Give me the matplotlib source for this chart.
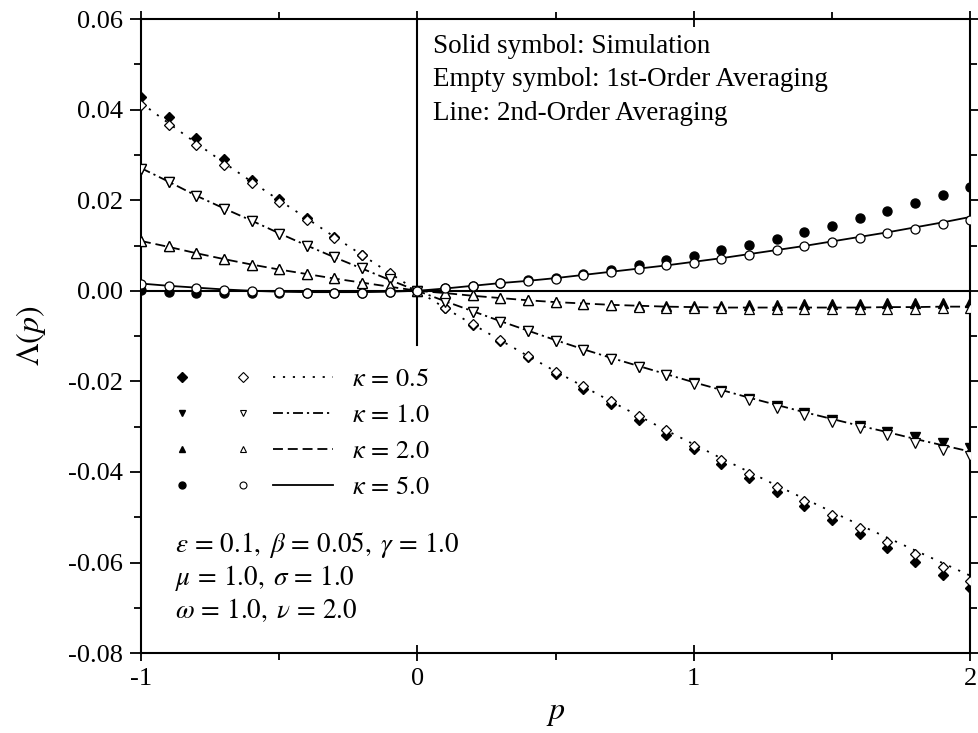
import matplotlib
matplotlib.use("Agg")
import matplotlib.pyplot as plt
from matplotlib.lines import Line2D
from matplotlib.legend_handler import HandlerTuple
from matplotlib.ticker import MultipleLocator, FormatStrFormatter
import numpy as np

plt.rcParams['font.family'] = ['Liberation Serif', 'DejaVu Serif']
plt.rcParams['mathtext.fontset'] = 'stix'

# p grid used for the simulation, 1st-order and 2nd-order curves
p = [-1.0, -0.9, -0.8, -0.7, -0.6, -0.5, -0.4, -0.3, -0.2, -0.1, 0.0,
     0.1, 0.2, 0.3, 0.4, 0.5, 0.6, 0.7, 0.8, 0.9, 1.0,
     1.1, 1.2, 1.3, 1.4, 1.5, 1.6, 1.7, 1.8, 1.9, 2.0]

kappas = ['0.5', '1.0', '2.0', '5.0']

# kappa = 0.5
sim_k05 = [0.0429, 0.0383, 0.0337, 0.0291, 0.0245, 0.0202, 0.0160, 0.0119, 0.0079, 0.0037, 0.0,
           -0.0039, -0.0076, -0.0111, -0.0147, -0.0183, -0.0217, -0.0249, -0.0285, -0.0318, -0.0350,
           -0.0382, -0.0414, -0.0445, -0.0476, -0.0507, -0.0537, -0.0568, -0.0598, -0.0627, -0.0656]
avg1_k05 = [0.0411, 0.0365, 0.0321, 0.0278, 0.0238, 0.0197, 0.0157, 0.0116, 0.0078, 0.0039, 0.0,
            -0.0038, -0.0074, -0.0108, -0.0144, -0.0180, -0.0211, -0.0244, -0.0277, -0.0308, -0.0342,
            -0.0373, -0.0404, -0.0433, -0.0465, -0.0495, -0.0524, -0.0554, -0.0581, -0.0610, -0.0640]
avg2_k05 = [0.0415, 0.0370, 0.0326, 0.0283, 0.0241, 0.0200, 0.0160, 0.0119, 0.0079, 0.0039, 0.0,
            -0.0038, -0.0074, -0.0109, -0.0144, -0.0178, -0.0211, -0.0244, -0.0276, -0.0308, -0.0339,
            -0.0370, -0.0400, -0.0430, -0.0459, -0.0488, -0.0517, -0.0545, -0.0573, -0.0601, -0.0629]

# kappa = 1.0
sim_k10 = [0.0270, 0.0241, 0.0209, 0.0181, 0.0154, 0.0126, 0.0099, 0.0074, 0.0050, 0.0025, 0.0,
           -0.0024, -0.0046, -0.0068, -0.0088, -0.0110, -0.0130, -0.0150, -0.0168, -0.0187, -0.0204,
           -0.0221, -0.0238, -0.0254, -0.0270, -0.0285, -0.0298, -0.0311, -0.0323, -0.0335, -0.0347]
avg1_k10 = [0.0270, 0.0241, 0.0209, 0.0181, 0.0154, 0.0126, 0.0099, 0.0074, 0.0050, 0.0025, 0.0,
            -0.0024, -0.0046, -0.0068, -0.0088, -0.0110, -0.0130, -0.0150, -0.0168, -0.0187, -0.0205,
            -0.0223, -0.0241, -0.0258, -0.0274, -0.0289, -0.0304, -0.0319, -0.0336, -0.0351, -0.0364]
avg2_k10 = [0.0271, 0.0241, 0.0210, 0.0182, 0.0155, 0.0127, 0.0100, 0.0074, 0.0049, 0.0024, 0.0,
            -0.0023, -0.0045, -0.0067, -0.0088, -0.0109, -0.0129, -0.0148, -0.0166, -0.0184, -0.0202,
            -0.0219, -0.0236, -0.0252, -0.0268, -0.0283, -0.0298, -0.0312, -0.0327, -0.0341, -0.0355]

# kappa = 2.0
sim_k20 = [0.0111, 0.0098, 0.0083, 0.0070, 0.0057, 0.0048, 0.0036, 0.0028, 0.0018, 0.0010, 0.0,
           -0.0004, -0.0010, -0.0016, -0.0021, -0.0025, -0.0029, -0.0031, -0.0033, -0.0034, -0.0034,
           -0.0033, -0.0032, -0.0031, -0.0030, -0.0030, -0.0029, -0.0028, -0.0027, -0.0026, -0.0024]
avg1_k20 = [0.0111, 0.0098, 0.0083, 0.0070, 0.0057, 0.0048, 0.0036, 0.0028, 0.0018, 0.0010, 0.0,
            -0.0004, -0.0010, -0.0016, -0.0021, -0.0025, -0.0029, -0.0032, -0.0035, -0.0037, -0.0038,
            -0.0039, -0.0040, -0.0040, -0.0040, -0.0040, -0.0040, -0.0040, -0.0040, -0.0039, -0.0039]
avg2_k20 = [0.0110, 0.0097, 0.0083, 0.0070, 0.0058, 0.0047, 0.0037, 0.0027, 0.0018, 0.0009, 0.0,
            -0.0005, -0.0011, -0.0016, -0.0021, -0.0025, -0.0028, -0.0031, -0.0033, -0.0035, -0.0036,
            -0.0037, -0.0037, -0.0037, -0.0037, -0.0037, -0.0037, -0.0036, -0.0036, -0.0035, -0.0035]

# kappa = 5.0
sim_k50 = [0.0002, -0.0002, -0.0005, -0.0005, -0.0005, -0.0005, -0.0005, -0.0005, -0.0004, -0.0002, 0.0,
           0.0006, 0.0011, 0.0017, 0.0023, 0.0028, 0.0036, 0.0046, 0.0057, 0.0067, 0.0077,
           0.0089, 0.0102, 0.0115, 0.0130, 0.0144, 0.0160, 0.0177, 0.0194, 0.0211, 0.0230]
avg1_k50 = [0.0015, 0.0010, 0.0006, 0.0002, -0.0001, -0.0003, -0.0004, -0.0004, -0.0004, -0.0002, 0.0,
            0.0006, 0.0011, 0.0017, 0.0022, 0.0027, 0.0034, 0.0041, 0.0049, 0.0056, 0.0062,
            0.0070, 0.0079, 0.0089, 0.0098, 0.0108, 0.0117, 0.0127, 0.0137, 0.0148, 0.0157]
avg2_k50 = [0.0016, 0.0011, 0.0007, 0.0003, 0.0000, -0.0002, -0.0003, -0.0003, -0.0003, -0.0002, 0.0,
            0.0005, 0.0011, 0.0017, 0.0022, 0.0028, 0.0035, 0.0042, 0.0049, 0.0056, 0.0064,
            0.0072, 0.0081, 0.0090, 0.0099, 0.0109, 0.0119, 0.0129, 0.0140, 0.0151, 0.0163]

sims = [sim_k05, sim_k10, sim_k20, sim_k50]
avg1s = [avg1_k05, avg1_k10, avg1_k20, avg1_k50]
avg2s = [avg2_k05, avg2_k10, avg2_k20, avg2_k50]

markers = ['D', 'v', '^', 'o']
msizes = [5.5, 6.5, 6.5, 6.5]
linestyles = [(0, (1.2, 4.3)), (0, (5.5, 2.2, 1.2, 2.2)), (0, (5.5, 2.7)), '-']

fig = plt.figure(figsize=(9.79, 7.33), dpi=100)
ax = fig.add_axes([0.144, 0.109, 0.847, 0.865])

handles = []
labels = []
for i in range(4):
    ax.plot(p, avg2s[i], color='black', lw=1.3, ls=linestyles[i], zorder=2)
    ax.plot(p, sims[i], ls='none', marker=markers[i], ms=msizes[i],
            mfc='black', mec='black', zorder=3)
    ax.plot(p, avg1s[i], ls='none', marker=markers[i], ms=msizes[i],
            mfc='white', mec='black', mew=0.9, zorder=4)

    h_sim = Line2D([], [], ls='none', marker=markers[i], ms=5, mfc='black', mec='black')
    h_avg1 = Line2D([], [], ls='none', marker=markers[i], ms=5, mfc='white', mec='black', mew=0.8)
    h_avg2 = Line2D([], [], color='black', lw=1.3, ls=linestyles[i])
    handles.append((h_sim, h_avg1, h_avg2))
    labels.append(r'$\kappa\,=\,%s$' % kappas[i])

# coordinate axes through the origin
ax.axhline(0, color='black', lw=1.5, zorder=1)
ax.axvline(0, ymin=(-0.012 + 0.08) / 0.14, ymax=1, color='black', lw=1.5, zorder=1)

ax.set_xlim(-1, 2)
ax.set_ylim(-0.08, 0.06)
ax.xaxis.set_major_locator(MultipleLocator(1))
ax.xaxis.set_minor_locator(MultipleLocator(0.5))
ax.yaxis.set_major_locator(MultipleLocator(0.02))
ax.yaxis.set_minor_locator(MultipleLocator(0.01))
ax.xaxis.set_major_formatter(FormatStrFormatter('%d'))
ax.yaxis.set_major_formatter(FormatStrFormatter('%.2f'))

for s in ax.spines.values():
    s.set_linewidth(1.5)
ax.tick_params(which='both', direction='out', top=True, right=True, width=1.3, labelsize=19)
ax.tick_params(which='major', length=8, pad=5)
ax.tick_params(which='minor', length=5)
ax.tick_params(axis='x', which='major', direction='inout', length=12)

ax.set_xlabel(r'$p$', fontsize=23, labelpad=6)
ax.set_ylabel(r'$\mathit{\Lambda}(p)$', fontsize=23, labelpad=14)

ax.legend(handles, labels, handler_map={tuple: HandlerTuple(ndivide=None, pad=0)},
          loc='upper left', bbox_to_anchor=(0.0133, 0.450), frameon=False,
          fontsize=19, handlelength=6.86, handletextpad=0.72, labelspacing=0.47,
          borderpad=0, borderaxespad=0, numpoints=1)

note_kw = dict(transform=ax.transAxes, fontsize=19.5, va='center', ha='left')
ax.text(0.352, 0.957, 'Solid symbol: Simulation', **note_kw)
ax.text(0.352, 0.905, 'Empty symbol: 1st-Order Averaging', **note_kw)
ax.text(0.352, 0.851, 'Line: 2nd-Order Averaging', **note_kw)

ax.text(0.041, 0.170, r'$\varepsilon\,=\,0.1,\; \beta\,=\,0.05,\; \gamma\,=\,1.0$', **note_kw)
ax.text(0.041, 0.118, r'$\mu\,=\,1.0,\; \sigma\,=\,1.0$', **note_kw)
ax.text(0.041, 0.068, r'$\omega\,=\,1.0,\; \nu\,=\,2.0$', **note_kw)

fig.savefig('out.png', dpi=100)
